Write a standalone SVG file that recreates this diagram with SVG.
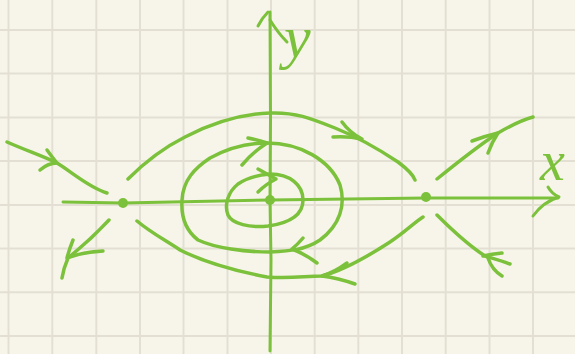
<svg xmlns="http://www.w3.org/2000/svg" width="575" height="354" viewBox="0 0 575 354">
<style>
.grid{stroke:#e3e0d3;stroke-width:2;fill:none}
.ln{stroke:#7cc13b;stroke-width:3.5;fill:none;stroke-linecap:round;stroke-linejoin:round}
.ax{stroke:#7cc13b;stroke-width:3;fill:none;stroke-linecap:round;stroke-linejoin:round}
.dot{fill:#7cc13b}
.lbl{font-family:"Liberation Serif",serif;font-style:italic;fill:#7cc13b}
</style>
<rect width="575" height="354" fill="#f7f5ea"/>
<g id="grid" class="grid">
<path d="M8.5,0V354M52.3,0V354M96.3,0V354M140,0V354M183.5,0V354M227.5,0V354M271,0V354M314.7,0V354M358.3,0V354M402,0V354M445.7,0V354M489.5,0V354M533,0V354"/>
<path d="M0,30H575M0,73.5H575M0,117.5H575M0,161H575M0,205H575M0,248.5H575M0,292.3H575M0,336H575"/>
</g>
<g id="axes" class="ax">
<path d="M270,351 L271,260 L270,200 L270.5,120 L270,12"/>
<path d="M258,26 Q262,18 268,12 M270,20 Q278,33 287,42"/>
<path d="M63,202 L123,203 L270,200 L426,198 L558,198"/>
<path d="M548,187 Q552,194 559,197 Q543,202 533,216"/>
</g>
<g id="connectors" class="ln">
<path id="upper-arc" d="M128,179 C145,162 165,147 185,137 C210,124 240,114 270,113 C295,112 310,118 335,128 C355,136 380,150 398,162 C406,168 413,174 415,180"/>
<path d="M342,122 Q350,133 362,139 M333,137 Q348,136 362,139"/>
<path id="lower-arc" d="M137,221 C150,232 165,240 180,250 C200,260 230,270 267,277 C290,279 305,276 322,276 C345,270 370,255 390,242 C405,232 415,222 423,217"/>
<path d="M347,263 Q335,272 322,276 M355,284 Q338,278 322,276"/>
<path id="in-left" d="M7,142 C25,150 45,157 57,163 C72,172 88,187 107,193"/>
<path d="M47,150 Q52,157 57,163 M40,170 Q48,163 57,163"/>
<path id="out-left" d="M109,220 C95,235 78,250 68,258 C65,265 63,272 62,278"/>
<path d="M73,240 Q69,250 67,258 M103,251 Q82,252 67,258"/>
<path id="out-right" d="M437,179 C458,162 478,146 498,133 C510,126 522,120 533,117"/>
<path d="M472,141 Q485,136 498,133 M488,153 Q492,142 498,133"/>
<path id="in-right" d="M437,215 C448,226 465,243 485,256 C495,259 502,261 510,264"/>
<path d="M502,253 Q492,254 483,256 M488,258 Q492,270 502,276"/>
<path id="orbit-mid" d="M267,143 C300,143 330,160 340,185 C346,205 340,225 320,240 C305,250 290,251 270,252 C245,252 215,248 198,240 C185,230 181,215 182,200 C183,180 195,168 210,158 C230,147 250,143 267,143 Z"/>
<path d="M248,138 Q258,140 267,143 M242,165 Q253,152 267,143"/>
<path d="M303,238 Q298,244 292,249 M317,263 Q305,254 292,249"/>
<path id="orbit-inner" d="M270,174 C290,174 303,185 303,200 C303,215 290,223 268,226 C250,228 232,224 228,215 C224,205 228,192 238,184 C248,177 258,175 270,174 Z"/>
<path d="M258,169 Q267,174 276,179 M258,192 Q266,184 276,179"/>
</g>
<g id="saddle-left"><circle class="dot" cx="123" cy="203" r="5"/></g>
<g id="center"><circle class="dot" cx="270" cy="200" r="5"/></g>
<g id="saddle-right"><circle class="dot" cx="426" cy="197" r="5"/></g>
<g id="labels">
<text class="lbl" x="284" y="57" font-size="60">y</text>
<text class="lbl" x="540" y="180" font-size="56">x</text>
</g>
</svg>
